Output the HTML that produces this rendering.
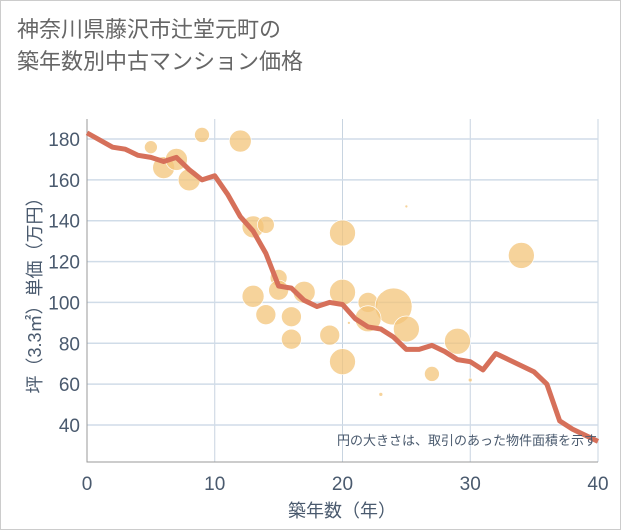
<!DOCTYPE html>
<html><head><meta charset="utf-8">
<style>
body{margin:0;background:#fff;}
#wrap{position:relative;width:619px;height:528px;border:1px solid #ccc;background:#fff;font-family:"Liberation Sans","Noto Sans CJK JP",sans-serif;}
#title{position:absolute;left:16px;top:13px;font-size:22px;line-height:32px;color:#666;}
svg{position:absolute;left:0;top:0;}
</style></head><body>
<div id="wrap">
<div id="title">神奈川県藤沢市辻堂元町の<br>築年数別中古マンション価格</div>
<svg id="chart" width="621" height="530"></svg>
</div>
<script>
const xTicks=[0,10,20,30,40];
const yTicks=[40,60,80,100,120,140,160,180];
const bubbleAge=[5,9,12,6,7,8,13,14,20,34,15,13,15,17,20,22,24,22,14,16,25,19,16,29,20,27,23,30,25,20.5];
const bubblePrice=[176,182,179,166,170,160,137,138,134,123,112,103,106,105,105,100,98,92,94,93,87,84,82,81,71,65,55,62,147,90];
const bubbleSize=[6.5,7.5,11,11,11,11,11,8.5,13,13,8.5,11,10,11,13,10,18.5,13,10,10,13,10,10,13,13,7.5,2,2,1.5,1.5];
const lineAge=[0,2,3,4,5,6,7,8,9,10,11,12,13,14,15,16,17,18,19,20,21,22,23,24,25,26,27,28,29,30,31,32,33,34,35,36,37,38,39,40];
const linePrice=[183,176,175,172,171,169,171,165,160,162,153,142,135,124,108,107,101,98,100,99,92,88,87,83,77,77,79,76,72,71,67,75,72,69,66,60,42,38,35,32];

const svg=document.getElementById('chart');
const NS='http://www.w3.org/2000/svg';
const L=86,R=597,T=118,B=461;
const sx=v=>L+(v-0)/40*(R-L);
const sy=v=>424-(v-40)/140*(424-138);
function mk(tag,attrs){const e=document.createElementNS(NS,tag);for(const k in attrs)e.setAttribute(k,attrs[k]);svg.appendChild(e);return e;}

xTicks.forEach(t=>{
  const g=mk('line',{x1:sx(t),x2:sx(t),y1:T,y2:B,stroke:'#c8d4e0','stroke-width':1});
  
  
  const tx=mk('text',{x:sx(t),y:489,'text-anchor':'middle','font-size':19,fill:'#4a5a6e'});
  tx.textContent=t;
  
  
});
yTicks.forEach(t=>{
  const g=mk('line',{x1:L,x2:R,y1:sy(t),y2:sy(t),stroke:'#d0dce8','stroke-width':1.5});
  
  
  const tx=mk('text',{x:79,y:sy(t)+7,'text-anchor':'end','font-size':19,fill:'#4a5a6e'});
  tx.textContent=t;
  
  
});
const ax=mk('path',{d:`M${L} ${T} V${B} H${R}`,stroke:'#999',fill:'none','stroke-width':1});



bubbleAge.forEach((a,i)=>{
  const c=mk('circle',{cx:sx(a),cy:sy(bubblePrice[i]),r:bubbleSize[i],fill:'#f3c47a','fill-opacity':0.75,stroke:'#fff','stroke-width':0.7});
  
  
});
const pl=mk('polyline',{points:lineAge.map((a,i)=>sx(a)+','+sy(linePrice[i])).join(' '),fill:'none',stroke:'#d6705a','stroke-width':5,'stroke-linejoin':'round'});



const note=mk('text',{x:596,y:444,'text-anchor':'end','font-size':13,fill:'#4a5a6e'});
note.textContent='円の大きさは、取引のあった物件面積を示す';


const xt=mk('text',{x:341,y:516,'text-anchor':'middle','font-size':18,fill:'#4a5a6e'});
xt.textContent='築年数（年）';


const yt=mk('text',{x:0,y:0,'text-anchor':'middle','font-size':18,fill:'#4a5a6e',transform:'translate(40,290) rotate(-90)'});
yt.textContent='坪（3.3㎡）単価（万円）';


</script>
</body></html>
